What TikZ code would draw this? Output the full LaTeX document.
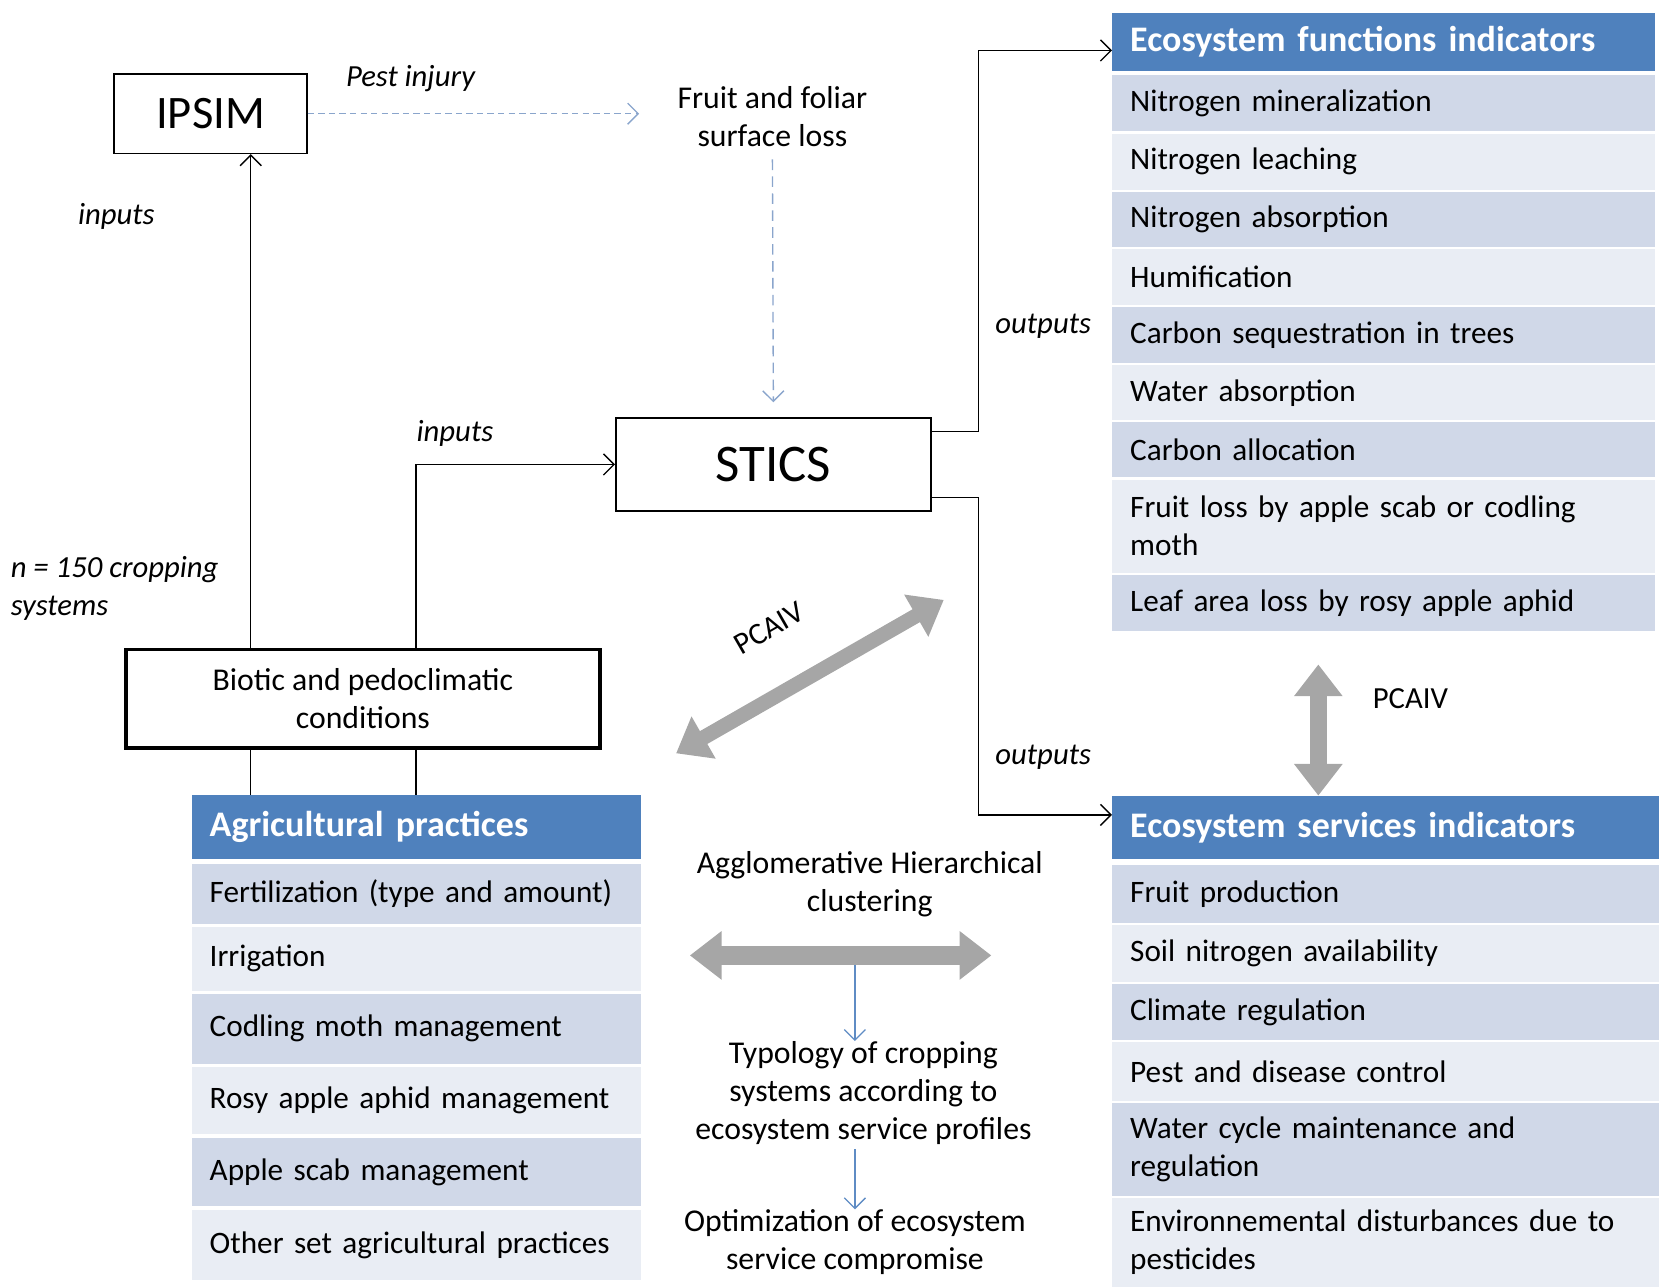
\documentclass[tikz,border=0pt]{standalone}
\usepackage{fontspec}
\setmainfont{Carlito}
\usetikzlibrary{arrows.meta,calc}
\definecolor{hdr}{HTML}{4F81BD}
\definecolor{rowd}{HTML}{D0D8E8}
\definecolor{rowl}{HTML}{E9EDF4}
\definecolor{garr}{HTML}{A6A6A6}
\definecolor{darr}{HTML}{8AA5CC}
\definecolor{barr}{HTML}{5F8CC4}
\begin{document}
\begin{tikzpicture}[x=1pt,y=-1pt,
 bodyf/.style={font=\fontsize{29.5}{36}\selectfont},
 lbl/.style={font=\fontsize{29}{36}\selectfont\itshape, inner sep=0pt},
 hdrbox/.style={anchor=north west, fill=hdr, text=white, font=\fontsize{34}{38}\selectfont\bfseries, align=left, inner xsep=17pt, inner ysep=0pt},
 drow/.style={anchor=north west, fill=rowd, bodyf, align=left, inner xsep=17pt, inner ysep=0pt},
 lrow/.style={drow, fill=rowl},
 bigbox/.style={draw, line width=1.5pt, font=\fontsize{44}{50}\selectfont, inner sep=0pt},
 arr/.style={-{Straight Barb[length=10pt,width=20pt]}, line width=1.3pt},
 darrow/.style={-{Straight Barb[length=10pt,width=20pt]}, line width=1.3pt, draw=darr},
 barrow/.style={-{Straight Barb[length=10pt,width=20pt]}, line width=1.2pt, draw=barr},
 garrow/.style={draw=garr, {Triangle[width=44pt,length=30pt]}-{Triangle[width=44pt,length=30pt]}},
 plain/.style={font=\fontsize{30}{36}\selectfont, align=center, inner sep=0pt}
]
\useasboundingbox (0,0) rectangle (1568,1216);

% main boxes
\node[bigbox, minimum width=182pt, minimum height=75pt] (ipsim) at (199,107.5) {IPSIM};
\node[bigbox, minimum width=298pt, minimum height=88pt, font=\fontsize{50}{56}\selectfont] (stics) at (731,439) {STICS};
\node[draw, line width=3.5pt, minimum width=448pt, minimum height=93pt, plain] (biotic) at (343,660.5) {Biotic and pedoclimatic\\conditions};
\node[plain] (fruit) at (730,110) {Fruit and foliar\\surface loss};

% labels
\node[lbl] (pest) at (388,74) {Pest injury};
\node[lbl] (in1) at (110,205) {inputs};
\node[lbl] (in2) at (430,410) {inputs};
\node[lbl, anchor=west, align=left] (ncs) at (10,556) {n = 150 cropping\\systems};
\node[lbl] (out1) at (986,308) {outputs};
\node[lbl] (out2) at (986,716) {outputs};

% Ecosystem functions table
\node[hdrbox, text width=479pt, minimum height=55pt] (efh) at (1051,12) {Ecosystem functions indicators};
\node[drow, text width=479pt, minimum height=53pt] (f1) at (1051,71) {Nitrogen mineralization};
\node[lrow, text width=479pt, minimum height=53pt] (f2) at (1051,126) {Nitrogen leaching};
\node[drow, text width=479pt, minimum height=52pt] (f3) at (1051,181) {Nitrogen absorption};
\node[lrow, text width=479pt, minimum height=53pt] (f4) at (1051,235) {Humification};
\node[drow, text width=479pt, minimum height=53pt] (f5) at (1051,290) {Carbon sequestration in trees};
\node[lrow, text width=479pt, minimum height=52pt] (f6) at (1051,345) {Water absorption};
\node[drow, text width=479pt, minimum height=52pt] (f7) at (1051,399) {Carbon allocation};
\node[lrow, text width=479pt, minimum height=88pt] (f8) at (1051,453) {Fruit loss by apple scab or codling\\moth};
\node[drow, text width=479pt, minimum height=53pt] (f9) at (1051,543) {Leaf area loss by rosy apple aphid};

% Ecosystem services table
\node[hdrbox, text width=483pt, minimum height=60pt] (esh) at (1051,752) {Ecosystem services indicators};
\node[drow, text width=483pt, minimum height=55pt] (s1) at (1051,817) {Fruit production};
\node[lrow, text width=483pt, minimum height=54pt] (s2) at (1051,874) {Soil nitrogen availability};
\node[drow, text width=483pt, minimum height=53pt] (s3) at (1051,930) {Climate regulation};
\node[lrow, text width=483pt, minimum height=55pt] (s4) at (1051,985) {Pest and disease control};
\node[drow, text width=483pt, minimum height=88pt] (s5) at (1051,1042) {Water cycle maintenance and\\regulation};
\node[lrow, text width=483pt, minimum height=84pt] (s6) at (1051,1132) {Environnemental disturbances due to\\pesticides};

% Agricultural practices table
\node[hdrbox, text width=391pt, minimum height=61pt] (agh) at (181,751) {Agricultural practices};
\node[drow, text width=391pt, minimum height=57pt] (a1) at (181,816) {Fertilization (type and amount)};
\node[lrow, text width=391pt, minimum height=60pt] (a2) at (181,876) {Irrigation};
\node[drow, text width=391pt, minimum height=66pt] (a3) at (181,939) {Codling moth management};
\node[lrow, text width=391pt, minimum height=64pt] (a4) at (181,1008) {Rosy apple aphid management};
\node[drow, text width=391pt, minimum height=65pt] (a5) at (181,1075) {Apple scab management};
\node[lrow, text width=391pt, minimum height=67pt] (a6) at (181,1143) {Other set agricultural practices};

% clustering texts
\node[plain] (ahc) at (822,836) {Agglomerative Hierarchical\\clustering};
\node[plain] (typo) at (816,1033) {Typology of cropping\\systems according to\\ecosystem service profiles};
\node[plain] (opti) at (808,1174) {Optimization of ecosystem\\service compromise};

% connectors
\coordinate (c1) at (237,0);
\coordinate (c2) at (393,0);
\draw[arr] (biotic.north -| c1) -- (ipsim.south -| c1);
\draw[arr] (biotic.north -| c2) |- (stics.west);
\draw[line width=1.3pt] (biotic.south -| c1) -- (agh.north -| c1);
\draw[line width=1.3pt] (biotic.south -| c2) -- (agh.north -| c2);
\draw[darrow, dash pattern=on 6pt off 4pt, shorten >=36pt] (ipsim.east) -- (ipsim.east -| fruit.west);
\draw[darrow, dash pattern=on 10pt off 6pt, shorten <=12pt, shorten >=14pt] (fruit.south) -- (stics.north);
\coordinate (vx) at (925,0);
\draw[arr] ([yshift=31pt]stics.east) -- ([yshift=31pt]stics.east -| vx) |- ([yshift=-8pt]efh.west);
\draw[arr] ([yshift=-31pt]stics.east) -- ([yshift=-31pt]stics.east -| vx) |- ([yshift=12pt]esh.west);

% gray double arrows
\coordinate (p1) at (639,712);
\coordinate (p2) at (892,567);
\draw[garrow, line width=14pt] (p1) -- (p2);
\node[font=\fontsize{29}{32}\selectfont, rotate=30, inner sep=0pt] (pcaiv1) at (727,594) {PCAIV};
\coordinate (q1) at (1246,628);
\coordinate (q2) at (1246,752);
\draw[garrow, line width=16pt] (q1) -- (q2);
\node[font=\fontsize{29}{32}\selectfont] (pcaiv2) at (1333,660) {PCAIV};
\coordinate (h1) at (652,903);
\coordinate (h2) at (937,903);
\draw[garrow, line width=18pt] (h1) -- (h2);
\coordinate (hm) at (808,912);
\draw[barrow] (hm) -- (typo.north -| hm);
\draw[barrow, shorten <=4pt] (typo.south -| hm) -- (opti.north -| hm);
\end{tikzpicture}
\end{document}
